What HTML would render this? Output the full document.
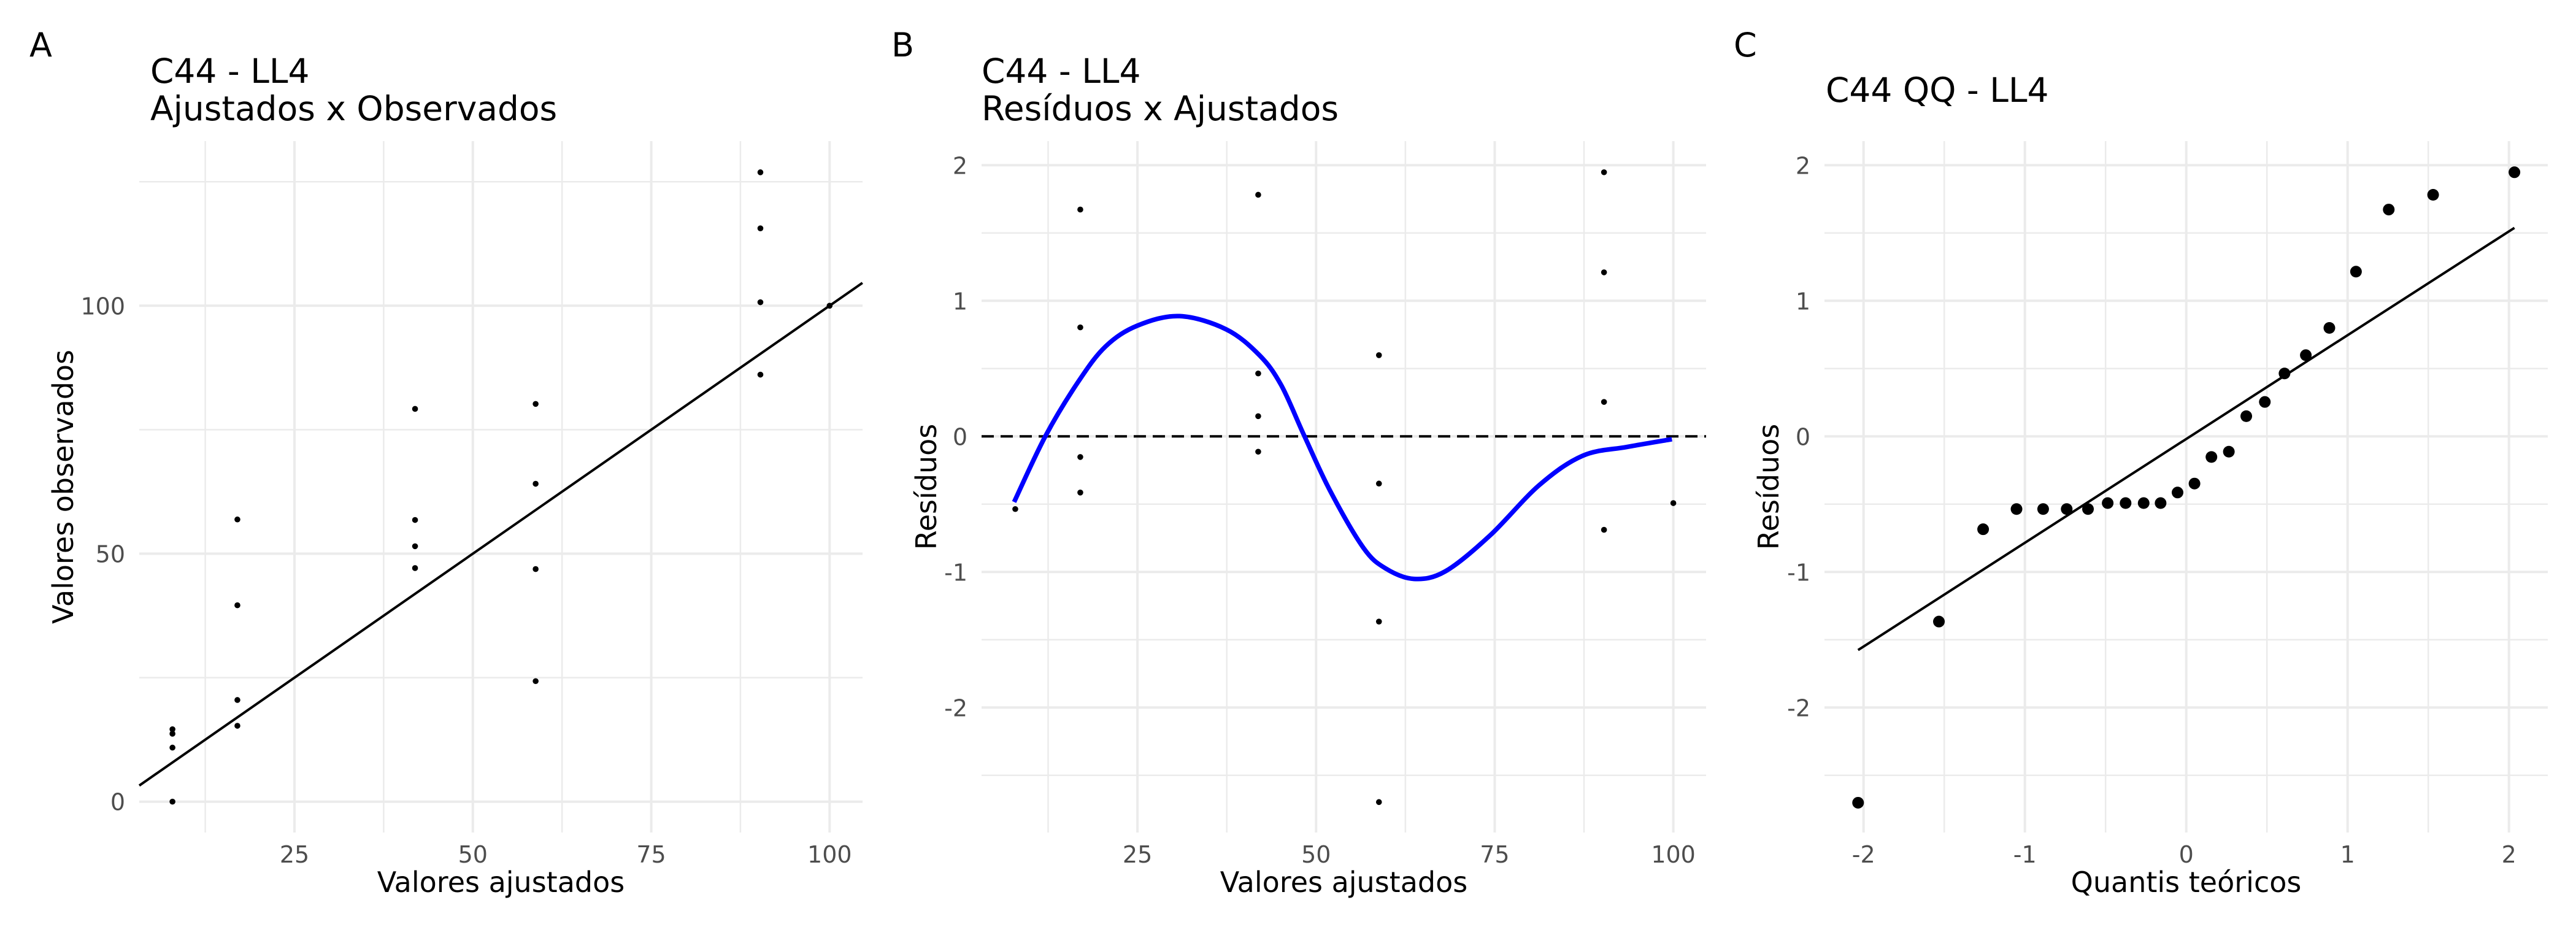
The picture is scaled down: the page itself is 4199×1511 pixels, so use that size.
<!DOCTYPE html>
<html><head><meta charset="utf-8">
<style>
html,body{margin:0;padding:0;background:#fff;}
svg{display:block;font-family:"DejaVu Sans","Liberation Sans",sans-serif;}
</style></head>
<body>
<svg id="fig" xmlns="http://www.w3.org/2000/svg" width="4199" height="1511" viewBox="0 0 4199 1511">
<rect x="0" y="0" width="4199" height="1511" fill="#fff"/>
</svg>
<script>
// Panel A data
const aFitted = [7.9,7.9,7.9,7.9,17,17,17,17,41.9,41.9,41.9,41.9,58.8,58.8,58.8,58.8,90.3,90.3,90.3,90.3,100];
const aObserved = [14.6,13.7,10.9,0,56.9,39.6,20.5,15.3,79.2,56.8,51.5,47.1,80.2,64.1,46.9,24.3,126.9,115.6,100.7,86.1,100];
const aXTicks = [25,50,75,100];
const aYTicks = [0,50,100];
// Panel B data
const bFitted = [7.9,17,17,17,17,41.9,41.9,41.9,41.9,58.8,58.8,58.8,58.8,90.3,90.3,90.3,90.3,100];
const bResid = [-0.536,1.673,0.804,-0.152,-0.414,1.782,0.464,0.149,-0.113,0.599,-0.348,-1.366,-2.697,1.948,1.210,0.254,-0.689,-0.492];
const bSmoothX = [7.74,12.1,16.7,20.55,25,30.9,37.4,42.05,45.1,48.3,52.0,56.6,59.7,63.7,68.1,74.3,81.2,87.3,93.5,99.8];
const bSmoothY = [-0.484,0.0,0.402,0.664,0.817,0.887,0.79,0.60,0.38,0.01,-0.405,-0.82,-0.973,-1.051,-0.995,-0.733,-0.361,-0.143,-0.078,-0.021];
const bXTicks = [25,50,75,100];
const bYTicks = [-2,-1,0,1,2];
// Panel C data
const cTheo = [-2.034,-1.533,-1.259,-1.052,-0.887,-0.741,-0.609,-0.487,-0.376,-0.264,-0.159,-0.054,0.051,0.156,0.264,0.372,0.487,0.609,0.741,0.887,1.052,1.255,1.530,2.034];
const cSample = [-2.702,-1.366,-0.685,-0.536,-0.536,-0.536,-0.536,-0.492,-0.492,-0.492,-0.492,-0.414,-0.348,-0.152,-0.113,0.149,0.254,0.464,0.599,0.800,1.215,1.673,1.782,1.948];
const cLineX = [-2.034,2.034];
const cLineY = [-1.576,1.538];
const cXTicks = [-2,-1,0,1,2];
const cYTicks = [-2,-1,0,1,2];

const NS = "http://www.w3.org/2000/svg";
const svg = document.getElementById('fig');
function mk(tag, attrs, parent){
  const e = document.createElementNS(NS, tag);
  for (const k in attrs) e.setAttribute(k, attrs[k]);
  (parent||svg).appendChild(e);
  return e;
}
function txt(s, attrs, parent){ const t = mk('text', attrs, parent); t.textContent = s; return t; }

function lin(d0,d1,r0,r1){ return v => r0 + (v-d0)*(r1-r0)/(d1-d0); }

function panel(cfg){
  const g = mk('g', {});
  
  
  const {L,R,T,B,sx,sy} = cfg;
  cfg.xMinor.forEach(v=>{ const l=mk('line',{x1:sx(v),x2:sx(v),y1:T,y2:B,stroke:'#ebebeb','stroke-width':2.5},g);
      });
  cfg.yMinor.forEach(v=>{ const l=mk('line',{x1:L,x2:R,y1:sy(v),y2:sy(v),stroke:'#ebebeb','stroke-width':2.5},g);
      });
  cfg.xTicks.forEach(v=>{ const l=mk('line',{x1:sx(v),x2:sx(v),y1:T,y2:B,stroke:'#ebebeb','stroke-width':4},g);
     
    const t=txt(String(v),{x:sx(v),y:1406,'text-anchor':'middle','font-size':38,fill:'#4d4d4d'},g);
      });
  cfg.yTicks.forEach(v=>{ const l=mk('line',{x1:L,x2:R,y1:sy(v),y2:sy(v),stroke:'#ebebeb','stroke-width':4},g);
     
    const t=txt(String(v),{x:L-23,y:sy(v)+14,'text-anchor':'end','font-size':38,fill:'#4d4d4d'},g);
      });
  const tag = txt(cfg.tag,{x:cfg.tagX,y:92,'font-size':54,fill:'#000'},g);
   
  cfg.title.forEach((s,i)=>{ const t=txt(s,{x:cfg.titleX,y:cfg.titleY[i],'font-size':55,fill:'#000'},g);
      });
  const xt = txt(cfg.xTitle,{x:(L+R)/2,y:1454,'text-anchor':'middle','font-size':46,fill:'#000'},g);
   
  const yt = txt(cfg.yTitle,{x:0,y:0,'text-anchor':'middle','font-size':46,fill:'#000',transform:`translate(${cfg.yTitleX},${(T+B)/2}) rotate(-90)`},g);
   
  return g;
}

// Panel A
const aSx = lin(25,100,480,1352.3), aSy = lin(0,100,1306.7,498.3);
const gA = panel({name:'panel-a',L:227,R:1406,T:230,B:1357,sx:aSx,sy:aSy,
  xMinor:[12.5,37.5,62.5,87.5], yMinor:[25,75,125], xTicks:aXTicks, yTicks:aYTicks,
  tag:'A', tagX:48, title:['C44 - LL4','Ajustados x Observados'], titleX:245, titleY:[135,196],
  xTitle:'Valores ajustados', yTitle:'Valores observados', yTitleX:119});
const aLine = mk('line',{x1:aSx(3.25),y1:aSy(3.25),x2:aSx(104.6),y2:aSy(104.6),stroke:'#000','stroke-width':4},gA);
 
aFitted.forEach((v,i)=>{ const c=mk('circle',{cx:aSx(v),cy:aSy(aObserved[i]),r:4.8,fill:'#000'},gA);
    });

// Panel B
const bSx = lin(25,100,1854.1,2727.6), bSy = lin(0,1,711.3,490.3);
const gB = panel({name:'panel-b',L:1600,R:2781,T:230,B:1357,sx:bSx,sy:bSy,
  xMinor:[12.5,37.5,62.5,87.5], yMinor:[-2.5,-1.5,-0.5,0.5,1.5], xTicks:bXTicks, yTicks:bYTicks,
  tag:'B', tagX:1453, title:['C44 - LL4','Resíduos x Ajustados'], titleX:1600, titleY:[135,196],
  xTitle:'Valores ajustados', yTitle:'Resíduos', yTitleX:1526});
const zl = mk('line',{x1:1600,x2:2781,y1:bSy(0),y2:bSy(0),stroke:'#000','stroke-width':4,'stroke-dasharray':'20 11'},gB);
 
bFitted.forEach((v,i)=>{ const c=mk('circle',{cx:bSx(v),cy:bSy(bResid[i]),r:4.8,fill:'#000'},gB);
    });
let pts = bSmoothX.map((v,i)=>[bSx(v),bSy(bSmoothY[i])]);
let d = 'M'+pts[0][0]+','+pts[0][1];
for (let i=0;i<pts.length-1;i++){
  const p0=pts[i-1]||pts[i], p1=pts[i], p2=pts[i+1], p3=pts[i+2]||p2;
  d += ` C${p1[0]+(p2[0]-p0[0])/6},${p1[1]+(p2[1]-p0[1])/6} ${p2[0]-(p3[0]-p1[0])/6},${p2[1]-(p3[1]-p1[1])/6} ${p2[0]},${p2[1]}`;
}
const sm = mk('path',{d:d,fill:'none',stroke:'#0000ff','stroke-width':7.5},gB);
 

// Panel C
const cSx = lin(1,2,3826.7,4089.7), cSy = lin(0,1,711.3,490.3);
const gC = panel({name:'panel-c',L:2974,R:4153,T:230,B:1357,sx:cSx,sy:cSy,
  xMinor:[-1.5,-0.5,0.5,1.5], yMinor:[-2.5,-1.5,-0.5,0.5,1.5], xTicks:cXTicks, yTicks:cYTicks,
  tag:'C', tagX:2826, title:['C44 QQ - LL4'], titleX:2976, titleY:[166],
  xTitle:'Quantis teóricos', yTitle:'Resíduos', yTitleX:2899});
const ql = mk('line',{x1:cSx(cLineX[0]),y1:cSy(cLineY[0]),x2:cSx(cLineX[1]),y2:cSy(cLineY[1]),stroke:'#000','stroke-width':4},gC);
 
cTheo.forEach((v,i)=>{ const c=mk('circle',{cx:cSx(v),cy:cSy(cSample[i]),r:9.5,fill:'#000'},gC);
    });
</script>
</body></html>
